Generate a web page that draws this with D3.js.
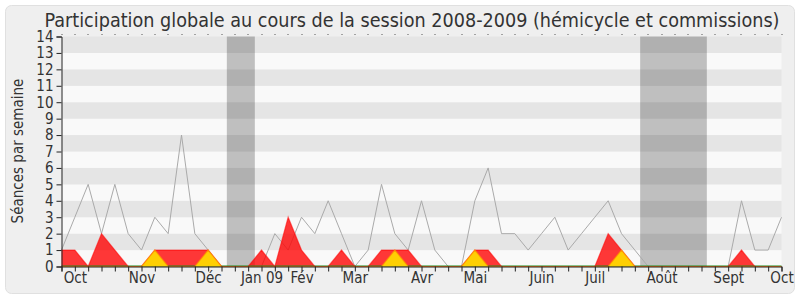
<!DOCTYPE html>
<html>
<head>
<meta charset="utf-8">
<script src="https://cdn.jsdelivr.net/npm/d3@7"></script>
<style>
  body { margin: 0; background: #fff; }
  text { font-family: "DejaVu Sans Condensed", "DejaVu Sans", sans-serif; fill: #333; }
</style>
</head>
<body>
<div id="chart"></div>
<script>
// weekly values, session oct 2008 -> oct 2009 (55 weeks)
const total = [1, 3, 5, 2, 5, 2, 1, 3, 2, 8, 2, 1, 0, 0, 0, 0, 2, 1, 3, 2, 4, 2, 0, 1, 5, 2, 1, 4, 1, 0,
               0, 4, 6, 2, 2, 1, 2, 3, 1, 2, 3, 4, 2, 1, 0, 0, 0, 0, 0, 0, 0, 4, 1, 1, 3];
const presence = [1, 1, 0, 2, 1, 0, 0, 1, 1, 1, 1, 1, 0, 0, 0, 1, 0, 3, 1, 0, 0, 1, 0, 0, 1, 1, 1, 0, 0, 0,
                  0, 1, 1, 0, 0, 0, 0, 0, 0, 0, 0, 2, 1, 0, 0, 0, 0, 0, 0, 0, 0, 1, 0, 0, 0];
const interventions = [0, 0, 0, 0, 0, 0, 0, 1, 0, 0, 0, 1, 0, 0, 0, 0, 0, 0, 0, 0, 0, 0, 0, 0, 0, 1, 0, 0, 0, 0,
                       0, 1, 0, 0, 0, 0, 0, 0, 0, 0, 0, 0, 1, 0, 0, 0, 0, 0, 0, 0, 0, 0, 0, 0, 0];
const monthLabels = ["Oct", "Nov", "Déc", "Jan 09", "Fév", "Mar", "Avr", "Mai", "Juin", "Juil", "Août", "Sept", "Oct"];
const monthWeeks = [1, 6, 11, 15, 18, 22, 27, 31, 36, 40, 45, 50, 54];
const holidays = [[12.4, 14.5], [43.4, 48.4]];

const width = 800, height = 300;
const svg = d3.select('#chart').append('svg')
    .attr('width', width)
    .attr('height', height);

// panel
svg.append('rect')
    .attr('x', 5.5).attr('y', 5.5)
    .attr('width', 789).attr('height', 288)
    .attr('rx', 6)
    .attr('fill', '#efefef')
    .attr('stroke', '#e0e0e0');

const x = d3.scaleLinear().domain([0, total.length - 1]).range([61.5, 781.5]);
const y = d3.scaleLinear().domain([0, 14]).range([266.5, 36.5]);

// stripes
svg.append('g').selectAll('rect')
    .data(d3.range(14))
    .enter()
    .append('rect')
    .attr('x', x(0))
    .attr('width', x(total.length - 1) - x(0))
    .attr('y', (d) => y(d + 1))
    .attr('height', (d) => y(d) - y(d + 1))
    .attr('fill', (d) => d % 2 === 1 ? '#e5e5e5' : '#f9f9f9');

// holiday bands
svg.append('g').selectAll('rect')
    .data(holidays)
    .enter()
    .append('rect')
    .attr('x', (d) => x(d[0]))
    .attr('width', (d) => x(d[1]) - x(d[0]))
    .attr('y', y(14))
    .attr('height', y(0) - y(14))
    .attr('fill', '#000')
    .attr('fill-opacity', 0.23);

// total line
const line = d3.line().x((d, i) => x(i)).y((d) => y(d));
svg.append('path')
    .attr('d', line(total))
    .attr('fill', 'none')
    .attr('stroke', '#aaaaaa')
    .attr('stroke-width', 1);

const area = d3.area().x((d, i) => x(i)).y0(y(0)).y1((d) => y(d));

// red area
svg.append('path')
    .attr('d', area(presence))
    .attr('fill', 'rgba(255,0,0,0.78)');

// green baseline
svg.append('line')
    .attr('x1', x(0)).attr('x2', x(total.length - 1))
    .attr('y1', y(0) - 0.5).attr('y2', y(0) - 0.5)
    .attr('stroke', '#1a8a1a')
    .attr('stroke-width', 1);

svg.append('path')
    .attr('d', line(presence))
    .attr('fill', 'none')
    .attr('stroke', 'rgba(255,0,0,0.55)')
    .attr('stroke-width', 1.2);

// yellow area
svg.append('path')
    .attr('d', area(interventions))
    .attr('fill', 'rgba(255,215,0,0.95)');
svg.append('path')
    .attr('d', line(interventions))
    .attr('fill', 'none')
    .attr('stroke', 'rgba(255,140,0,0.7)')
    .attr('stroke-width', 1.2);

// top dotted ticks
svg.append('g').selectAll('rect')
    .data(d3.range(total.length))
    .enter()
    .append('rect')
    .attr('x', (d) => Math.round(x(d)) - 0.5)
    .attr('y', 34)
    .attr('width', 1).attr('height', 1)
    .attr('fill', '#555');

// axes
const yAxis = svg.append('g')
    .attr('transform', `translate(${x(0)},0)`)
    .call(d3.axisLeft(y).ticks(14).tickSize(5).tickPadding(3));
yAxis.selectAll('text').style('font-size', '15px');

const xAxis = svg.append('g')
    .attr('transform', `translate(0,${y(0)})`)
    .call(d3.axisBottom(x)
        .tickValues(d3.range(total.length))
        .tickSize(5)
        .tickPadding(1)
        .tickFormat((d) => {
            const j = monthWeeks.indexOf(d);
            return j >= 0 ? monthLabels[j] : '';
        }));
xAxis.selectAll('text').style('font-size', '15px');

svg.selectAll('.domain, .tick line').attr('stroke', '#222');

// y title
svg.append('text')
    .attr('transform', 'translate(23,151) rotate(-90)')
    .attr('text-anchor', 'middle')
    .style('font-size', '15px')
    .text('Séances par semaine');

// title
svg.append('text')
    .attr('x', 412)
    .attr('y', 27)
    .attr('text-anchor', 'middle')
    .style('font-size', '19.6px')
    .text('Participation globale au cours de la session 2008-2009 (hémicycle et commissions)');
</script>
</body>
</html>
